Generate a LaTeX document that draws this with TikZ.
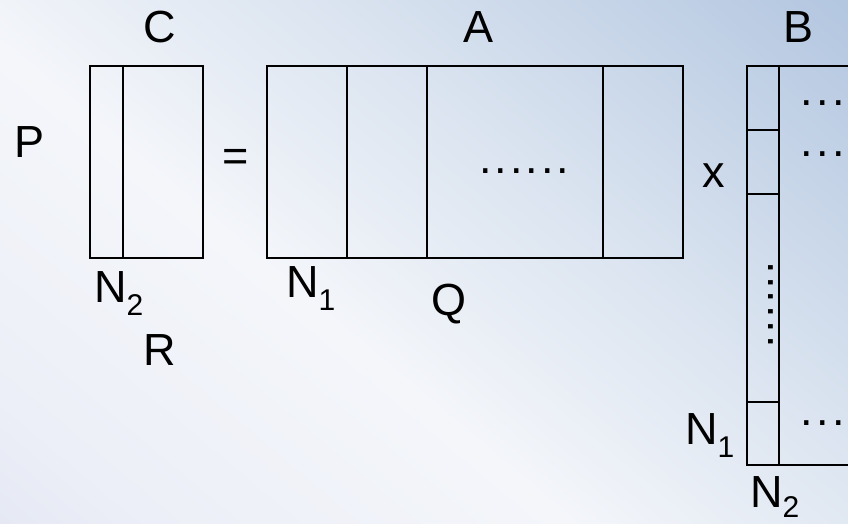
\documentclass[tikz,border=0pt]{standalone}
\usepackage{fontspec}
\setmainfont{Liberation Sans}
\definecolor{bgA}{HTML}{D9DDEE}
\definecolor{bgB}{HTML}{ECEFF7}
\definecolor{bgC}{HTML}{F4F6FA}
\definecolor{bgD}{HTML}{D8E2EF}
\definecolor{bgE}{HTML}{B8CAE2}
\definecolor{bgF}{HTML}{9FB7D8}
\pgfdeclareverticalshading{bgsh}{100bp}{color(0bp)=(bgA); color(22bp)=(bgB); color(42bp)=(bgC); color(62bp)=(bgD); color(82bp)=(bgE); color(100bp)=(bgF)}
\newcommand\subs[2][13pt]{\raisebox{-#1}{\fontsize{30}{30}\selectfont #2}}
\begin{document}
\begin{tikzpicture}[x=1pt,y=-1pt,
  grid/.style={draw=black, line width=2.2pt},
  lbl/.style={font=\fontsize{45}{50}\selectfont, inner sep=0pt, anchor=base},
  lblw/.style={lbl, anchor=base west}]
\useasboundingbox (0,0) rectangle (848,523);
\clip (0,0) rectangle (848,523);
\shade[shading=bgsh, shading angle=-40] (0,0) rectangle (848,523);
% matrix C
\draw[grid] (90,66) rectangle (203,258);
\draw[grid] (123,66) -- (123,258);
% matrix A
\draw[grid] (267,66) rectangle (683,258);
\draw[grid] (347,66) -- (347,258);
\draw[grid] (427,66) -- (427,258);
\draw[grid] (603,66) -- (603,258);
% matrix B
\draw[grid] (747,66) rectangle (880,465);
\draw[grid] (779,66) -- (779,465);
\draw[grid] (747,130) -- (779,130);
\draw[grid] (747,194) -- (779,194);
\draw[grid] (747,402) -- (779,402);
% labels
\node[lbl] (labC) at (160,42) {C};
\node[lbl] (labA) at (479,42) {A};
\node[lbl] (labB) at (798,42) {B};
\node[lbl] (labP) at (30,157) {P};
\node[lbl] (eq) at (236,171) {=};
\node[lbl] (times) at (714,187) {x};
\node[lblw] (cN2) at (94,302) {N\subs{2}};
\node[lbl] (labR) at (160,365) {R};
\node[lblw] (aN1) at (286,297) {N\subs{1}};
\node[lbl] (labQ) at (449,315) {Q};
\node[lblw] (bN1) at (685,444) {N\subs{1}};
\node[lblw] (bN2) at (750,507) {N\subs[10pt]{2}};
% dots
\node[lblw] (adots) at (479,173) {.\kern3pt.\kern3pt.\kern3pt.\kern3pt.\kern3pt.};
\node[lblw, rotate=-90] (bvdots) at (768,261) {.\kern2.3pt.\kern2.3pt.\kern2.3pt.\kern2.3pt.\kern2.3pt.};
\node[lblw] (bdots1) at (800,105) {.\kern3.5pt.\kern3.5pt.};
\node[lblw] (bdots2) at (800,156) {.\kern3.5pt.\kern3.5pt.};
\node[lblw] (bdots3) at (800,425) {.\kern3.5pt.\kern3.5pt.};
\end{tikzpicture}
\end{document}
